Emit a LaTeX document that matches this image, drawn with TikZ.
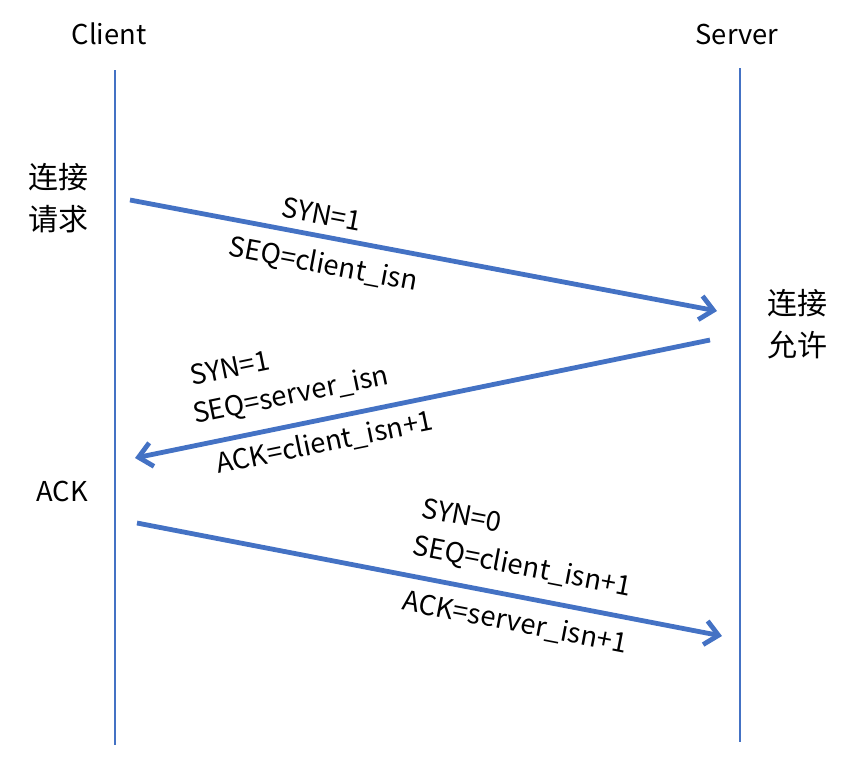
\documentclass[tikz,border=0pt]{standalone}
\usepackage{fontspec}
\setmainfont{Noto Sans CJK SC}
\usetikzlibrary{arrows.meta}
\definecolor{lineblue}{HTML}{4472C4}
\begin{document}
\begin{tikzpicture}[x=0.75pt,y=-0.75pt,
  lifeline/.style={draw=lineblue,line width=2.2pt},
  msg/.style={draw=lineblue,line width=3.6pt,-{Straight Barb[length=10pt,width=18pt,line width=3.6pt]}},
  lbl/.style={font=\fontsize{20.5}{24}\selectfont,inner sep=0pt,text=black},
  cjk/.style={font=\fontsize{22.5}{31}\selectfont,inner sep=0pt,align=center,text=black}]
\useasboundingbox (0,0) rectangle (854,758);
% heads
\node[lbl] (client) at (109,34) {Client};
\node[lbl] (server) at (737,34) {Server};
% lifelines
\coordinate (c0) at (115,70);
\coordinate (c1) at (115,745);
\coordinate (s0) at (740,68);
\coordinate (s1) at (740,742);
\draw[lifeline] (c0) -- (c1);
\draw[lifeline] (s0) -- (s1);
% side labels
\node[cjk] (req) at (58,198) {连接\\请求};
\node[cjk] (acc) at (797,324) {连接\\允许};
\node[lbl] (ack) at (62,491) {ACK};
% messages
\coordinate (m1a) at (130,200);
\coordinate (m1b) at (717,311);
\coordinate (m2a) at (710,340);
\coordinate (m2b) at (135,458);
\coordinate (m3a) at (137,523);
\coordinate (m3b) at (722,636);
\draw[msg] (m1a) -- (m1b);
\draw[msg] (m2a) -- (m2b);
\draw[msg] (m3a) -- (m3b);
% labels msg1
\node[lbl,rotate=-10.7] (l1a) at (322,214) {SYN=1};
\node[lbl,rotate=-10.7] (l1b) at (323,265) {SEQ=client\_isn};
% labels msg2
\node[lbl,rotate=11.6] (l2a) at (230,368) {SYN=1};
\node[lbl,rotate=11.6] (l2b) at (291,396) {SEQ=server\_isn};
\node[lbl,rotate=11.6] (l2c) at (325,443) {ACK=client\_isn+1};
% labels msg3
\node[lbl,rotate=-10.9] (l3a) at (462,515) {SYN=0};
\node[lbl,rotate=-10.9] (l3b) at (522,567) {SEQ=client\_isn+1};
\node[lbl,rotate=-10.9] (l3c) at (515,623) {ACK=server\_isn+1};
\end{tikzpicture}
\end{document}
